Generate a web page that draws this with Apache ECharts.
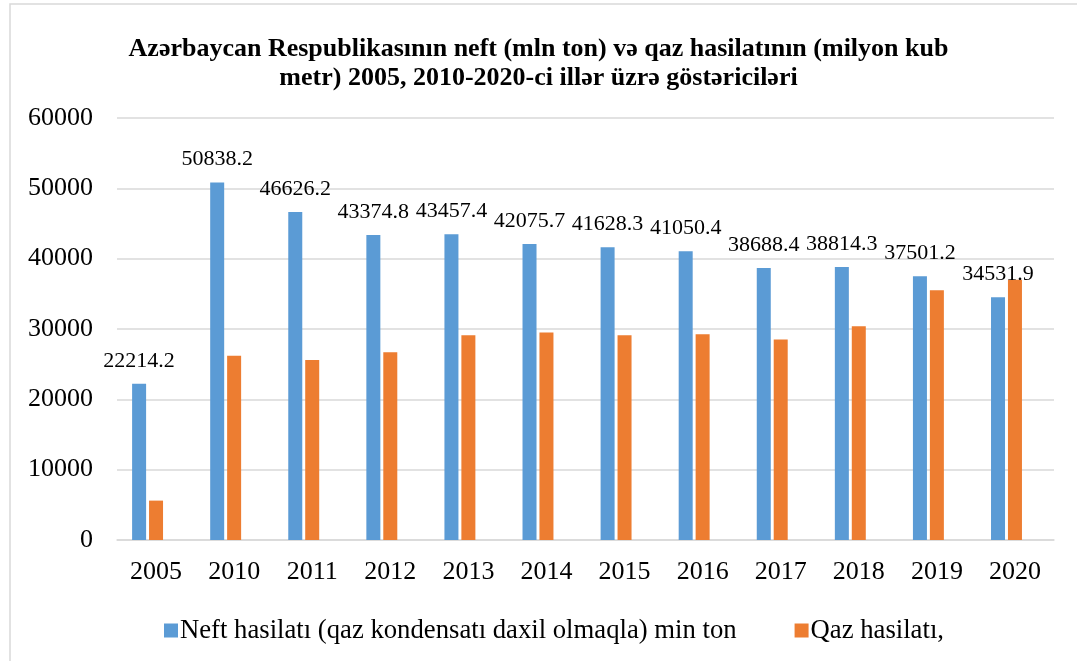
<!DOCTYPE html>
<html>
<head>
<meta charset="utf-8">
<script src="https://cdn.jsdelivr.net/npm/echarts@6/dist/echarts.min.js"></script>
<style>
  html, body { margin: 0; padding: 0; background: #fff; }
  #main { width: 1077px; height: 661px; }
</style>
</head>
<body>
<div id="main"></div>
<script>
// illər
const years = ["2005", "2010", "2011", "2012", "2013", "2014", "2015", "2016", "2017", "2018", "2019", "2020"];
// neft hasilatı (qaz kondensatı daxil olmaqla), min ton
const neftValues = [22214.2, 50838.2, 46626.2, 43374.8, 43457.4, 42075.7, 41628.3, 41050.4, 38688.4, 38814.3, 37501.2, 34531.9];
// qaz hasilatı (şəkildən oxunub)
const qazValues = [5600, 26200, 25600, 26700, 29100, 29500, 29100, 29250, 28500, 30400, 35500, 37000];
const seriesNames = ["Neft hasilatı (qaz kondensatı daxil olmaqla) min ton", "Qaz hasilatı,"];
const titleText = "Azərbaycan Respublikasının neft (mln ton) və qaz hasilatının (milyon kub\nmetr) 2005, 2010-2020-ci illər üzrə göstəriciləri";

const serif = "'Liberation Serif', 'DejaVu Serif', serif";
const chart = echarts.init(document.getElementById("main"));

chart.setOption({
  animation: false,
  title: {
    text: titleText,
    left: "center",
    top: 30,
    textStyle: {
      fontFamily: serif,
      fontWeight: "bold",
      fontSize: 26,
      lineHeight: 29,
      color: "#000",
    },
  },
  graphic: [
    {
      // çərçivə
      type: "rect",
      shape: { x: 10, y: 4, width: 1090, height: 700 },
      style: { fill: "none", stroke: "#d9d9d9", lineWidth: 1.5 },
      silent: true,
    },
  ],
  legend: {
    data: seriesNames,
    left: 159,
    top: 612,
    itemWidth: 14,
    itemHeight: 14,
    itemGap: 58,
    icon: "rect",
    textStyle: { fontFamily: serif, fontSize: 26.7, color: "#000", padding: [0, 0, 0, -3] },
  },
  grid: { left: 117, right: 23, top: 118, bottom: 121 },
  xAxis: {
    type: "category",
    data: years,
    axisLine: { lineStyle: { color: "#d9d9d9", width: 1.5 } },
    axisTick: { show: false },
    axisLabel: { fontFamily: serif, fontSize: 26, color: "#000", margin: 19 },
  },
  yAxis: {
    type: "value",
    min: 0,
    max: 60000,
    interval: 10000,
    axisLine: { show: false },
    axisTick: { show: false },
    splitLine: { lineStyle: { color: "#d9d9d9", width: 1.5 } },
    axisLabel: {
      fontFamily: serif,
      fontSize: 26,
      color: "#000",
      margin: 24,
      formatter: (v) => String(v),
    },
  },
  series: [
    {
      name: seriesNames[0],
      type: "bar",
      barWidth: 14,
      barGap: "21%",
      data: neftValues,
      itemStyle: { color: "#5b9bd5" },
      label: {
        show: true,
        position: "top",
        distance: 12,
        fontFamily: serif,
        fontSize: 22,
        color: "#000",
      },
    },
    {
      name: seriesNames[1],
      type: "bar",
      barWidth: 14,
      barGap: "21%",
      data: qazValues,
      itemStyle: { color: "#ed7d31" },
    },
    {
      // boş üçüncü yer (orijinalda olduğu kimi)
      name: "",
      type: "bar",
      barWidth: 14,
      barGap: "21%",
      data: [],
    },
  ],
});
</script>
</body>
</html>
